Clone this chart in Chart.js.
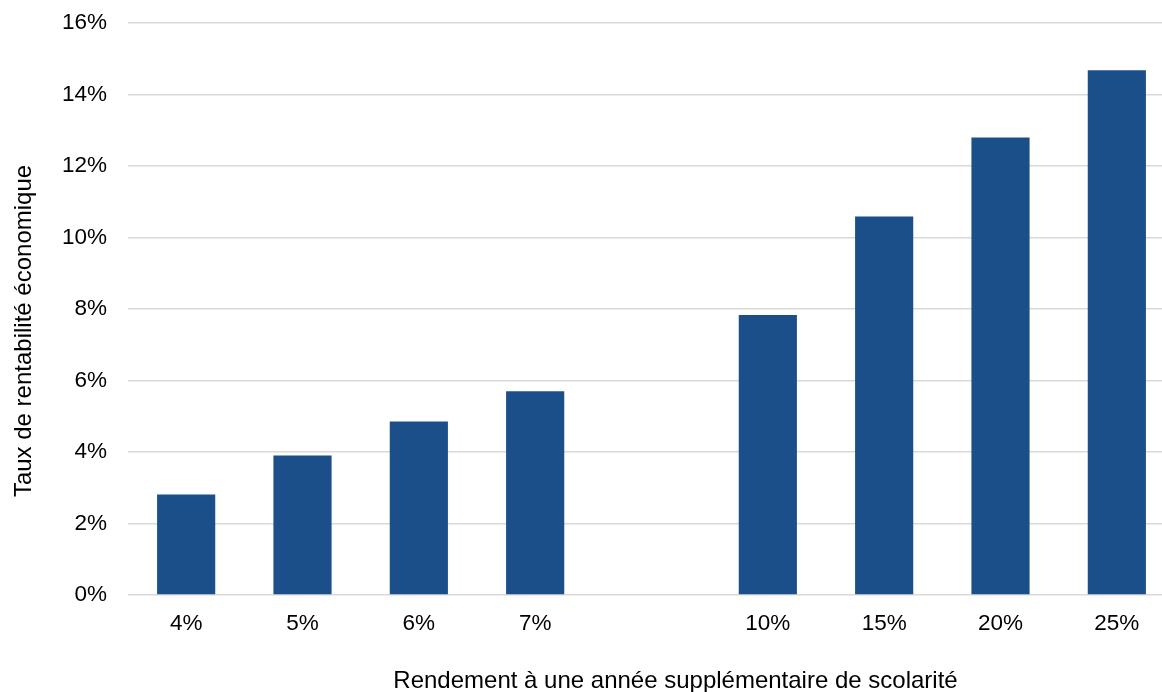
<!DOCTYPE html>
<html>
<head>
<meta charset="utf-8">
<script src="https://cdn.jsdelivr.net/npm/chart.js@4/dist/chart.umd.min.js"></script>
<style>
  html, body { margin: 0; padding: 0; background: #ffffff; overflow: hidden; }
  #wrap { position: relative; width: 1180px; height: 692px; }
</style>
</head>
<body>
<div id="wrap"><canvas id="c" width="1180" height="692"></canvas></div>
<script>
// Rendement à une année supplémentaire de scolarité (an empty slot separates 7% and 10%)
const categories = ['4%', '5%', '6%', '7%', '', '10%', '15%', '20%', '25%'];
// Taux de rentabilité économique, in percent
const tauxRentabilite = [2.81, 3.90, 4.85, 5.70, null, 7.83, 10.59, 12.80, 14.68];
const yTicks = [0, 2, 4, 6, 8, 10, 12, 14, 16];

const xTitle = 'Rendement à une année supplémentaire de scolarité';
const yTitle = 'Taux de rentabilité économique';

const FONT = "'Liberation Sans', Arial, sans-serif";

// Axis titles, drawn a little off the plot-area centre
const axisTitles = {
  id: 'axisTitles',
  afterDraw(chart) {
    const { ctx, chartArea } = chart;
    ctx.save();
    ctx.fillStyle = '#000';
    ctx.font = '24px ' + FONT;
    ctx.textAlign = 'center';
    ctx.textBaseline = 'alphabetic';
    ctx.fillText(xTitle, (chartArea.left + chartArea.right) / 2 + 24, chart.height - 4);
    ctx.translate(31, (chartArea.top + chartArea.bottom) / 2 + 22);
    ctx.rotate(-Math.PI / 2);
    ctx.fillText(yTitle, 0, 0);
    ctx.restore();
  }
};

new Chart(document.getElementById('c'), {
  type: 'bar',
  data: {
    labels: categories,
    datasets: [{
      data: tauxRentabilite,
      backgroundColor: '#1b4f8a',
      borderWidth: 0,
      barPercentage: 0.5,
      categoryPercentage: 1.0
    }]
  },
  plugins: [axisTitles],
  options: {
    responsive: false,
    animation: false,
    layout: { padding: { left: 4, right: 5, top: 23, bottom: 0 } },
    plugins: { legend: { display: false }, tooltip: { enabled: false } },
    scales: {
      x: {
        grid: { display: false, drawTicks: false },
        border: { display: false },
        ticks: { color: '#000', font: { family: FONT, size: 22.5 }, padding: 15, maxRotation: 0, autoSkip: false },
        afterFit: s => { s.height = 97; s.paddingLeft = 0; s.paddingRight = 0; }
      },
      y: {
        min: 0,
        max: 16,
        afterBuildTicks: s => { s.ticks = yTicks.map(v => ({ value: v })); },
        grid: { color: '#d9d9d9', lineWidth: 1.5, drawTicks: false },
        border: { display: false },
        ticks: { color: '#000', font: { family: FONT, size: 22.5 }, padding: 21, callback: v => v + '%' },
        afterFit: s => { s.width = 124; s.paddingTop = 0; s.paddingBottom = 0; }
      }
    }
  }
});
</script>
</body>
</html>
